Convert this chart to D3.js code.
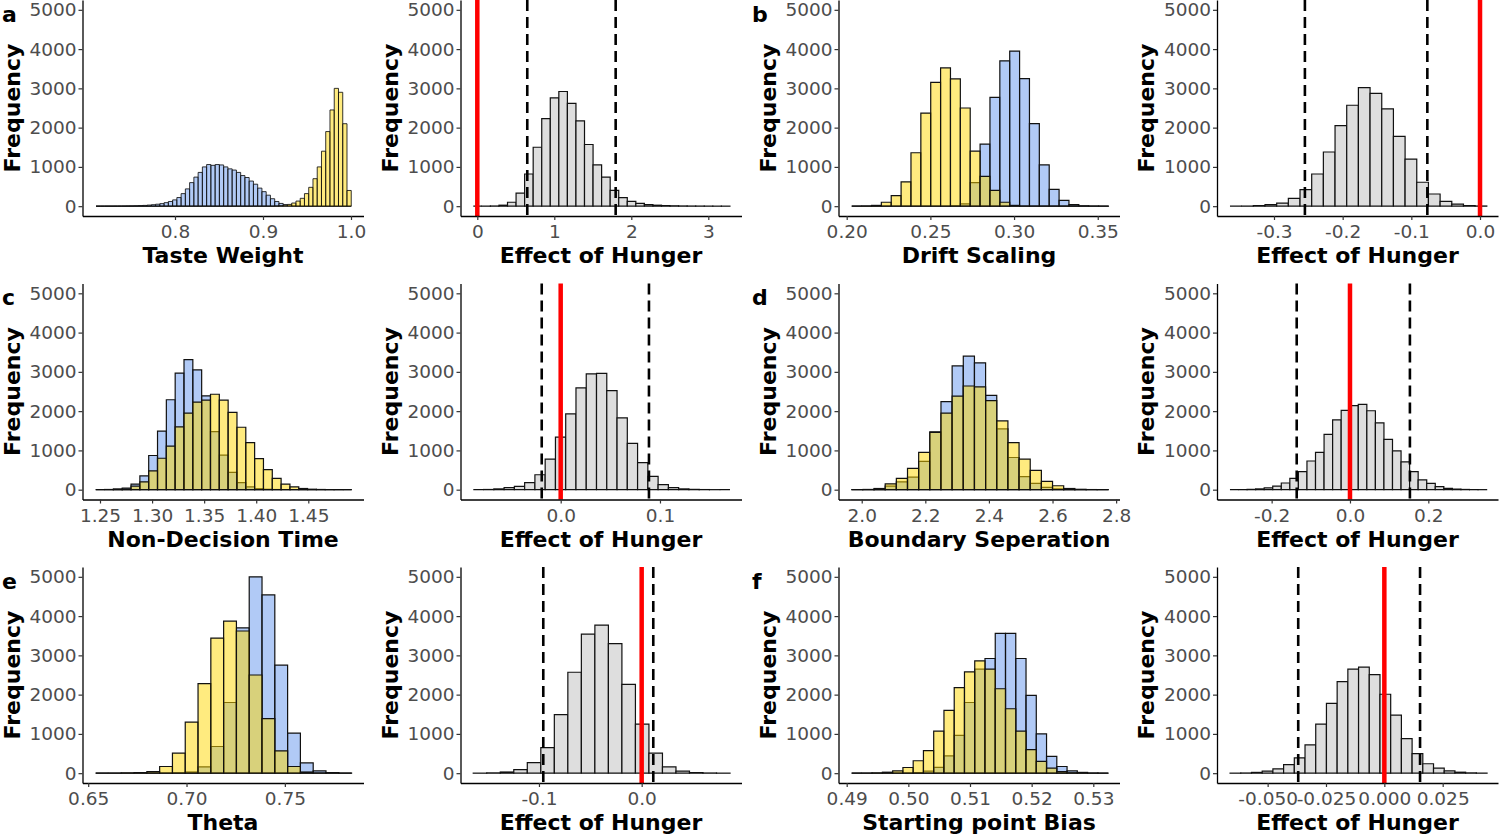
<!doctype html>
<html>
<head>
  <meta charset="utf-8">
  <title>Posterior distributions and effect of hunger</title>
  <style>
    body { margin: 0; background: #fff; }
    svg text { font-family: "DejaVu Sans", sans-serif; }
  </style>
</head>
<body>
<script src="https://cdn.jsdelivr.net/npm/d3@7"></script>
<script>

// ---- data ----
const panelLetters = ["a", "b", "c", "d", "e", "f"];
const paramNames = ["Taste Weight", "Drift Scaling", "Non-Decision Time",
                    "Boundary Seperation", "Theta", "Starting point Bias"];
const effectName = "Effect of Hunger";
const yTicks = [0, 1000, 2000, 3000, 4000, 5000];

const paramTicks = [[0.8, 0.9, 1.0], [0.20, 0.25, 0.30, 0.35], [1.25, 1.30, 1.35, 1.40, 1.45],
                    [2.0, 2.2, 2.4, 2.6, 2.8], [0.65, 0.70, 0.75], [0.49, 0.50, 0.51, 0.52, 0.53]];
const paramDigits = [1, 2, 2, 1, 2, 2];
const effectTicks = [[0, 1, 2, 3], [-0.3, -0.2, -0.1, 0.0], [0.0, 0.1],
                     [-0.2, 0.0, 0.2], [-0.1, 0.0], [-0.050, -0.025, 0.000, 0.025]];
const effectDigits = [0, 1, 1, 1, 1, 3];

const paramDomains = [[0.6949, 1.0142], [0.1951, 0.3630], [1.2332, 1.5030],
                      [1.9270, 2.8106], [0.6471, 0.7900], [0.48867, 0.53425]];
const effectDomains = [[-0.2182, 3.4312], [-0.3830, 0.0262], [-0.1009, 0.1821],
                       [-0.3395, 0.3779], [-0.1764, 0.0972], [-0.0717, 0.0487]];

const paramBinStart = [0.7103, 0.203, 1.2459, 1.9686, 0.6538, 0.4908];
const paramBinWidth = [0.004833, 0.0059, 0.008476, 0.03508, 0.006507, 0.001664];
const effectBinStart = [-0.052, -0.3641, -0.088, -0.3064, -0.164, -0.0661];
const effectBinWidth = [0.1111, 0.017, 0.01034, 0.02184, 0.01316, 0.004588];

// 95% interval of the hunger effect (dashed lines)
const ciLower = [0.649, -0.255, -0.0191, -0.136, -0.0958, -0.0369];
const ciUpper = [1.797, -0.0767, 0.0889, 0.153, 0.0113, 0.0153];

const tasteBlue = [0, 0, 1, 1, 2, 3, 4, 6, 8, 11,
  15, 20, 28, 38, 50, 65, 90, 120, 160, 220,
  320, 440, 600, 740, 860, 1000, 1060, 1040, 1060, 1050,
  1000, 950, 920, 860, 780, 730, 640, 560, 460, 370,
  280, 190, 120, 70, 40, 20, 10, 5, 0, 0,
  0, 0, 0, 0, 0, 0, 0, 0, 0, 0];
const tasteGold = [0, 0, 0, 0, 0, 0, 0, 0, 0, 0,
  0, 0, 0, 0, 0, 0, 0, 0, 0, 0,
  0, 0, 0, 0, 0, 0, 0, 0, 0, 0,
  0, 0, 0, 0, 0, 0, 0, 0, 0, 0,
  0, 1, 6, 12, 25, 45, 80, 130, 200, 320,
  480, 700, 1000, 1400, 1900, 2450, 3000, 2900, 2100, 400];
const tasteEffect = [0, 2, 5, 25, 100, 330, 820, 1500, 2230, 2760, 2920, 2620, 2170, 1570, 1050,
  740, 400, 220, 120, 70, 40, 25, 15, 10, 6, 4, 3, 2, 1, 1];

const driftBlue = [0, 0, 0, 0, 0, 0, 0, 0, 0, 2, 10, 60, 600, 1580, 2770, 3700, 3950, 3250,
  2100, 1050, 430, 150, 40, 10, 3, 1];
const driftGold = [0, 5, 20, 100, 270, 620, 1360, 2370, 3150, 3520, 3240, 2500, 1400, 760,
  400, 100, 20, 3, 0, 0, 0, 0, 0, 0, 0, 0];
const driftEffect = [0, 3, 15, 40, 80, 200, 420, 820, 1380, 2050, 2570, 3020, 2870, 2480,
  1780, 1200, 610, 310, 120, 50, 15, 5];

const ndtBlue = [0, 5, 20, 40, 140, 350, 870, 1490, 2290, 2970, 3310, 3050, 2390, 1480, 880,
  440, 180, 70, 25, 10, 4, 1, 0, 0, 0, 0, 0, 0, 0];
const ndtGold = [0, 0, 3, 15, 90, 200, 480, 800, 1110, 1600, 1950, 2230, 2280, 2430, 2280,
  1970, 1590, 1200, 790, 510, 290, 140, 70, 30, 12, 5, 2, 1, 0];
const ndtEffect = [0, 5, 20, 50, 85, 180, 380, 780, 1340, 1930, 2590, 2950, 2960, 2520, 1830,
  1180, 690, 340, 130, 50, 20, 8, 3, 1, 0];

const boundaryBlue = [1, 3, 15, 90, 200, 320, 720, 1470, 2240, 3150, 3400, 3230, 2400, 1550,
  820, 330, 160, 60, 20, 5, 2, 0, 0];
const boundaryGold = [0, 5, 30, 150, 290, 540, 950, 1460, 1950, 2380, 2640, 2620, 2270, 1750,
  1200, 780, 490, 210, 100, 30, 10, 3, 1];
const boundaryEffect = [0, 2, 8, 20, 45, 90, 170, 290, 460, 730, 950, 1410, 1780, 2020, 2140,
  2170, 2010, 1700, 1280, 990, 710, 460, 250, 160, 80, 35, 15, 6, 2, 1];

const thetaBlue = [0, 0, 0, 0, 2, 5, 10, 30, 160, 680, 1800, 3700, 5000, 4540, 2750, 1020,
  260, 60, 15, 3];
const thetaGold = [0, 2, 8, 15, 40, 170, 510, 1300, 2280, 3440, 3870, 3620, 2500, 1390, 570,
  170, 30, 5, 1, 0];
const thetaEffect = [1, 8, 30, 90, 270, 650, 1490, 2570, 3540, 3770, 3300, 2260, 1250, 510,
  160, 50, 15, 5, 1];

const biasBlue = [0, 0, 1, 2, 3, 5, 15, 50, 150, 440, 965, 1800, 2650, 2920, 3560, 3560,
  2920, 1980, 1000, 430, 170, 60, 20, 5, 1];
const biasGold = [0, 2, 8, 25, 60, 145, 316, 573, 1070, 1600, 2180, 2580, 2860, 2650, 2150,
  1640, 1070, 600, 300, 130, 40, 10, 3, 1, 0];
const biasEffect = [1, 5, 20, 50, 110, 220, 390, 720, 1250, 1780, 2330, 2650, 2700, 2510,
  2010, 1480, 880, 500, 240, 130, 60, 25, 8, 2];

const paramBlue = [tasteBlue, driftBlue, ndtBlue, boundaryBlue, thetaBlue, biasBlue];
const paramGold = [tasteGold, driftGold, ndtGold, boundaryGold, thetaGold, biasGold];
const effectCounts = [tasteEffect, driftEffect, ndtEffect, boundaryEffect, thetaEffect, biasEffect];

// ---- layout ----
const colLeft = [82.5, 460.5, 838.5, 1217];
const rowTop = [0, 283.5, 567];
const panelW = 281, panelH = 216;
const letterX = [2, 752];

const svg = d3.select("body").append("svg")
    .attr("width", 1500)
    .attr("height", 838);

function drawPanel(o) {
    const left = colLeft[o.col], top = rowTop[o.row];
    const g = svg.append("g");

    const x = d3.scaleLinear().domain(o.domain).range([left, left + panelW]);
    const y = d3.scaleLinear().domain([-250, 5250]).range([top + panelH, top]);

    const binPx = x(o.start + o.width) - x(o.start);
    const sw = binPx < 6 ? 0.85 : 1.2;

    o.groups.forEach(grp => {
        g.append("g").selectAll("path")
            .data(grp.counts)
            .join("path")
            .attr("d", (c, i) => {
                let x0 = x(o.start + i * o.width), x1 = x(o.start + (i + 1) * o.width);
                return `M${x0},${y(0)}V${y(c)}H${x1}V${y(0)}Z`;
            })
            .attr("fill", grp.fill)
            .attr("fill-opacity", grp.opacity)
            .attr("stroke", "#111")
            .attr("stroke-width", sw);
    });

    if (o.ci) {
        g.selectAll(".ci")
            .data(o.ci)
            .join("line")
            .attr("x1", d => x(d)).attr("x2", d => x(d))
            .attr("y1", y(5250)).attr("y2", y(-250))
            .attr("stroke", "#000")
            .attr("stroke-width", 2.6)
            .attr("stroke-dasharray", "11,6");
        g.append("line")
            .attr("x1", x(0)).attr("x2", x(0))
            .attr("y1", y(5250)).attr("y2", y(-250))
            .attr("stroke", "#ff0000")
            .attr("stroke-width", 4.5);
    }

    const xAxis = g.append("g")
        .attr("transform", `translate(0,${top + panelH})`)
        .call(d3.axisBottom(x).tickValues(o.ticks)
            .tickFormat(d => d.toFixed(o.digits))
            .tickSize(4).tickPadding(5).tickSizeOuter(0));
    const yAxis = g.append("g")
        .attr("transform", `translate(${left},0)`)
        .call(d3.axisLeft(y).tickValues(yTicks)
            .tickFormat(d3.format("d"))
            .tickSize(4).tickPadding(2).tickSizeOuter(0));

    [xAxis, yAxis].forEach(a => {
        a.attr("font-family", null).attr("font-size", null);
        a.select(".domain").attr("stroke", "#000").attr("stroke-width", 1.3);
        a.selectAll(".tick line").attr("stroke", "#333").attr("stroke-width", 1.2);
        a.selectAll(".tick text")
            .attr("fill", "#4d4d4d")
            .style("font-size", "18.5px");
    });

    g.append("text")
        .attr("x", left + panelW / 2)
        .attr("y", top + panelH + 47)
        .attr("text-anchor", "middle")
        .style("font-size", "22px")
        .style("font-weight", "bold")
        .text(o.title);

    g.append("text")
        .attr("transform", `translate(${left - 63},${top + panelH / 2}) rotate(-90)`)
        .attr("text-anchor", "middle")
        .style("font-size", "22px")
        .style("font-weight", "bold")
        .text("Frequency");

    if (o.letter) {
        g.append("text")
            .attr("x", letterX[o.col / 2])
            .attr("y", top + 21.5)
            .style("font-size", "22px")
            .style("font-weight", "bold")
            .text(o.letter);
    }
}

paramNames.forEach((name, p) => {
    const row = Math.floor(p / 2), col = (p % 2) * 2;
    drawPanel({
        row: row, col: col, title: name, letter: panelLetters[p],
        domain: paramDomains[p], ticks: paramTicks[p], digits: paramDigits[p],
        start: paramBinStart[p], width: paramBinWidth[p],
        groups: [
            { counts: paramBlue[p], fill: "#6495ED", opacity: 0.5 },
            { counts: paramGold[p], fill: "#FFD700", opacity: 0.5 }
        ]
    });
    drawPanel({
        row: row, col: col + 1, title: effectName,
        domain: effectDomains[p], ticks: effectTicks[p], digits: effectDigits[p],
        start: effectBinStart[p], width: effectBinWidth[p],
        groups: [{ counts: effectCounts[p], fill: "#dedede", opacity: 1 }],
        ci: [ciLower[p], ciUpper[p]]
    });
});

</script>
</body>
</html>
